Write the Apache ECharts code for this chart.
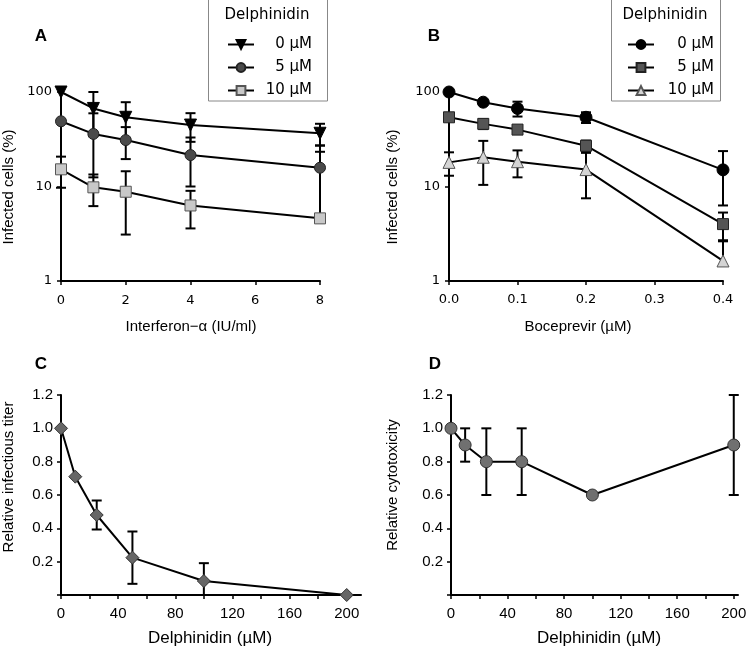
<!DOCTYPE html>
<html lang="en">
<head>
<meta charset="UTF-8">
<script src="https://cdn.jsdelivr.net/npm/echarts@6/dist/echarts.min.js"></script>
<title>Delphinidin panels</title>
<style>body{margin:0;background:#fff}</style>
</head>
<body>
<div id="main" style="width:750px;height:647px;"></div>
<script>
// panel A: interferon-alpha
var ifnDose = [0, 1, 2, 4, 8];
var a0 = [100, 67, 54, 44.7, 36.6], a0Err = [0, 33, 24, 15, 9.5];
var a5 = [49, 36, 31, 21.5, 15.8], a5Err = [0, 23.5, 11.5, 11.5, 11.4];
var a10 = [15.2, 9.8, 8.8, 6.3, 4.6], a10Err = [5.5, 3.6, 5.7, 2.7, 18.7];
// panel B: boceprevir
var bocDose = [0, 0.05, 0.1, 0.2, 0.4];
var b0 = [100, 78, 67, 54, 15], b0Err = [0, 0, 12, 7, 8.7];
var b5 = [54, 46, 40, 27, 4.0], b5Err = [0, 5.5, 0, 3.6, 1.3];
var b10 = [18, 20.4, 18.3, 15.1, 1.63], b10Err = [5, 10, 5.8, 7.6, 1.0];
// panels C, D: delphinidin alone
var delDose = [0, 10, 25, 50, 100, 200];
var titer = [1.0, 0.71, 0.48, 0.224, 0.084, 0.0], titerErr = [0, 0, 0.087, 0.157, 0.107, 0];
var tox = [1.0, 0.9, 0.8, 0.8, 0.6, 0.9], toxErr = [0, 0.1, 0.2, 0.2, 0, 0.3];
var legendNames = ['0 µM', '5 µM', '10 µM'];

var chart = echarts.init(document.getElementById('main'));

var ARIAL = 'Liberation Sans, Arial, sans-serif';
var DEJA = 'DejaVu Sans, sans-serif';

function pairs(x, y, e) {
	return x.map(function (v, i) { return [v, y[i], e ? e[i] : 0]; });
}

// error bars; lower part is skipped (log) or clipped to axis (linear)
function errBars(grid, x, y, e, min, mode) {
	return {
		type: 'custom', xAxisIndex: grid, yAxisIndex: grid, z: 1, silent: true,
		data: pairs(x, y, e), encode: { x: 0, y: 1 },
		renderItem: function (params, api) {
			var vx = api.value(0), vy = api.value(1), ve = api.value(2);
			if (!ve) return;
			var st = { stroke: '#000', lineWidth: 2 };
			var mid = api.coord([vx, vy]);
			var top = api.coord([vx, vy + ve]);
			var ch = [
				{ type: 'line', shape: { x1: mid[0], y1: mid[1], x2: top[0], y2: top[1] }, style: st },
				{ type: 'line', shape: { x1: top[0] - 5, y1: top[1], x2: top[0] + 5, y2: top[1] }, style: st }
			];
			var lo = vy - ve;
			if (lo > min) {
				var bot = api.coord([vx, lo]);
				ch.push({ type: 'line', shape: { x1: mid[0], y1: mid[1], x2: bot[0], y2: bot[1] }, style: st });
				ch.push({ type: 'line', shape: { x1: bot[0] - 5, y1: bot[1], x2: bot[0] + 5, y2: bot[1] }, style: st });
			} else if (mode === 'clip') {
				var b2 = api.coord([vx, min]);
				ch.push({ type: 'line', shape: { x1: mid[0], y1: mid[1], x2: b2[0], y2: b2[1] }, style: st });
			}
			return { type: 'group', children: ch };
		}
	};
}

function lineSeries(grid, name, x, y, symbol, size, fill, border, rot) {
	return {
		type: 'line', name: name, xAxisIndex: grid, yAxisIndex: grid, z: 3,
		data: pairs(x, y).map(function (p) { return [p[0], p[1]]; }),
		symbol: symbol, symbolSize: size, symbolRotate: rot || 0, showAllSymbol: true,
		lineStyle: { color: '#000', width: 2 },
		itemStyle: { color: fill, borderColor: border, borderWidth: 1 },
		emphasis: { disabled: true }, clip: false, animation: false
	};
}

var axLine = { show: true, onZero: false, lineStyle: { color: '#000', width: 2 } };
var tick = { show: true, length: 4, lineStyle: { color: '#000', width: 1.5 } };

function xAxis(grid, max, interval, labelFmt, tickVals, labelVals, font, size, margin) {
	return {
		type: 'value', gridIndex: grid, min: 0, max: max, interval: interval,
		axisLine: axLine,
		axisTick: Object.assign({ customValues: tickVals }, tick),
		axisLabel: { customValues: labelVals, color: '#000', fontFamily: font, fontSize: size, margin: margin, formatter: labelFmt },
		splitLine: { show: false }
	};
}

function logY(grid) {
	return {
		type: 'log', logBase: 10, gridIndex: grid, min: 1, max: 100,
		axisLine: axLine, axisTick: tick,
		axisLabel: { color: '#000', fontFamily: DEJA, fontSize: 13, margin: 9 },
		splitLine: { show: false }, minorTick: { show: false }
	};
}

function linY(grid) {
	return {
		type: 'value', gridIndex: grid, min: 0, max: 1.2, interval: 0.2,
		axisLine: axLine, axisTick: tick,
		axisLabel: { color: '#000', fontFamily: ARIAL, fontSize: 15, margin: 8,
			formatter: function (v) { return v < 0.01 ? '' : v.toFixed(1); } },
		splitLine: { show: false }
	};
}

function legendFor(prefix, left, textRight) {
	return {
		orient: 'vertical', left: left, top: 32, itemWidth: 26, itemHeight: 11, itemGap: 8,
		selectedMode: false,
		data: legendNames.map(function (n) { return prefix + n; }),
		formatter: function (n) { return '{t|' + n.slice(prefix.length) + '}'; },
		textStyle: {
			rich: { t: { width: textRight - left - 31, align: 'right', fontFamily: DEJA, fontSize: 15, color: '#000' } }
		}
	};
}

function txt(x, y, s, font, size, weight, rot) {
	return {
		type: 'text', x: x, y: y, rotation: rot || 0,
		style: { text: s, fontFamily: font, fontSize: size, fontWeight: weight || 'normal', fill: '#000',
			textAlign: 'center', textVerticalAlign: 'middle' }
	};
}

var labelsC = [0, 40, 80, 120, 160, 200];
var ticksC = [0, 20, 40, 60, 80, 100, 120, 140, 160, 180, 200];

var option = {
	backgroundColor: '#fff',
	animation: false,
	grid: [
		{ left: 61, top: 92, width: 259, height: 189 },
		{ left: 449, top: 92, width: 274, height: 189 },
		{ left: 61, top: 395, width: 300, height: 200 },
		{ left: 451, top: 395, width: 287, height: 200 }
	],
	xAxis: [
		xAxis(0, 8, 2, null, [0, 2, 4, 6, 8], [0, 2, 4, 6, 8], DEJA, 13, 13),
		xAxis(1, 0.4, 0.1, function (v) { return v.toFixed(1); }, [0, 0.1, 0.2, 0.3, 0.4], [0, 0.1, 0.2, 0.3, 0.4], DEJA, 13, 12),
		xAxis(2, 210, 20, null, ticksC, labelsC, ARIAL, 15, 11),
		xAxis(3, 203, 20, null, ticksC, labelsC, ARIAL, 15, 11)
	],
	yAxis: [logY(0), logY(1), linY(2), linY(3)],
	legend: [legendFor('A:', 222, 306), legendFor('B:', 622, 708)],
	graphic: [
		{ type: 'rect', shape: { x: 208.5, y: -1, width: 119, height: 102 }, style: { fill: '#fff', stroke: '#888', lineWidth: 1 }, z: -1 },
		{ type: 'rect', shape: { x: 611.5, y: -1, width: 109, height: 102 }, style: { fill: '#fff', stroke: '#888', lineWidth: 1 }, z: -1 },
		txt(267, 15, 'Delphinidin', DEJA, 15),
		txt(665, 15, 'Delphinidin', DEJA, 15),
		txt(41, 36, 'A', ARIAL, 17, 'bold'),
		txt(434, 36, 'B', ARIAL, 17, 'bold'),
		txt(41, 364, 'C', ARIAL, 17, 'bold'),
		txt(435, 364, 'D', ARIAL, 17, 'bold'),
		txt(9, 187, 'Infected cells (%)', ARIAL, 15, 'normal', Math.PI / 2),
		txt(393, 187, 'Infected cells (%)', ARIAL, 15, 'normal', Math.PI / 2),
		txt(191, 327, 'Interferon\u2212\u03b1 (IU/ml)', ARIAL, 15),
		txt(578, 327, 'Boceprevir (µM)', ARIAL, 15),
		txt(9, 477, 'Relative infectious titer', ARIAL, 15, 'normal', Math.PI / 2),
		txt(393, 485, 'Relative cytotoxicity', ARIAL, 15, 'normal', Math.PI / 2),
		txt(210, 638, 'Delphinidin (µM)', ARIAL, 17),
		txt(599, 638, 'Delphinidin (µM)', ARIAL, 17)
	],
	series: [
		errBars(0, ifnDose, a0, a0Err, 1, 'skip'),
		errBars(0, ifnDose, a5, a5Err, 1, 'skip'),
		errBars(0, ifnDose, a10, a10Err, 1, 'skip'),
		errBars(1, bocDose, b0, b0Err, 1, 'skip'),
		errBars(1, bocDose, b5, b5Err, 1, 'skip'),
		errBars(1, bocDose, b10, b10Err, 1, 'skip'),
		errBars(2, delDose, titer, titerErr, 0, 'clip'),
		errBars(3, delDose, tox, toxErr, 0, 'clip'),
		lineSeries(0, 'A:0 µM', ifnDose, a0, 'triangle', 12, '#000', '#000', 180),
		lineSeries(0, 'A:5 µM', ifnDose, a5, 'circle', 11, '#4a4a4a', '#222'),
		lineSeries(0, 'A:10 µM', ifnDose, a10, 'rect', 11, '#c8c8c8', '#555'),
		lineSeries(1, 'B:0 µM', bocDose, b0, 'circle', 12, '#000', '#000'),
		lineSeries(1, 'B:5 µM', bocDose, b5, 'rect', 11, '#555', '#222'),
		lineSeries(1, 'B:10 µM', bocDose, b10, 'triangle', 12, '#d4d4d4', '#555'),
		lineSeries(2, 'titer', delDose, titer, 'diamond', 13, '#666', '#333'),
		lineSeries(3, 'tox', delDose, tox, 'circle', 12, '#707070', '#333')
	]
};
chart.setOption(option);
</script>
</body>
</html>
